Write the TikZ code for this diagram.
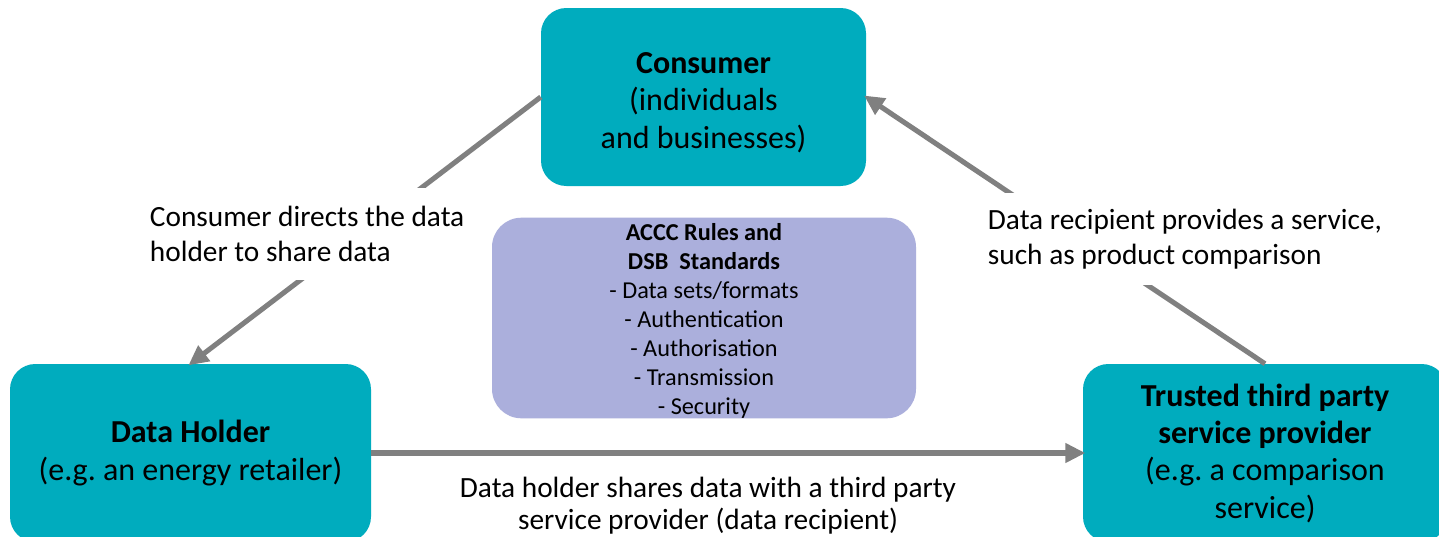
\documentclass[tikz,border=0pt]{standalone}
\usepackage{fontspec}
\setmainfont{Carlito}
\usetikzlibrary{arrows.meta}
\definecolor{teal1}{RGB}{0,172,190}
\definecolor{lav}{RGB}{171,175,220}
\definecolor{arrgray}{RGB}{128,128,128}
\tikzset{
  tealbox/.style={fill=teal1, rounded corners=19pt, inner sep=0pt, align=center,
    font=\fontsize{24}{28}\selectfont},
  lavbox/.style={fill=lav, rounded corners=22pt, inner sep=0pt, align=center,
    font=\fontsize{18.2}{21.75}\selectfont},
  conn/.style={draw=arrgray, line width=3.8pt,
    -{Triangle[length=15pt,width=14pt]}, shorten >=-2pt},
  lbl/.style={fill=white, inner xsep=2pt, inner ysep=0pt, align=left,
    font=\fontsize{22}{26.25}\selectfont},
}
\begin{document}
\frenchspacing
\begin{tikzpicture}[x=0.75pt,y=-0.75pt]
\useasboundingbox (0,0) rectangle (1439,536);
\clip (0,0) rectangle (1439,536);
\fill[white] (0,0) rectangle (1439,536);
\node[tealbox, minimum width={325*0.75pt}, minimum height={178*0.75pt}] (cons) at (703.5,97)
  {\rule{0pt}{24pt}\textbf{Consumer}\\(individuals\\and businesses)};
\node[tealbox, minimum width={361*0.75pt}, minimum height={178*0.75pt}] (dh) at (190.5,453)
  {\textbf{Data Holder}\\(e.g. an energy retailer)};
\node[tealbox, minimum width={364*0.75pt}, minimum height={178*0.75pt}] (tp) at (1265,453)
  {\textbf{Trusted third party}\\\textbf{service provider}\\(e.g. a comparison\\service)};
\node[lavbox, minimum width={424*0.75pt}, minimum height={198*0.75pt}] (acc) at (704,318)
  {\rule{0pt}{17pt}\textbf{ACCC Rules and}\\\textbf{DSB\ \ Standards}\\- Data sets/formats\\- Authentication\\- Authorisation\\- Transmission\\- Security};
\draw[conn] (cons.west) -- (dh.north);
\draw[conn] (tp.north) -- (cons.east);
\draw[conn] (dh.east) -- (tp.west);
\node[lbl, anchor=west, minimum height={92*0.75pt}] (l1) at (147,234)
  {Consumer directs the data\\holder to share data};
\node[lbl, anchor=west, minimum height={92*0.75pt}] (l3) at (985,239)
  {Data recipient provides a service,\\such as product comparison};
\node[lbl, align=center, font=\fontsize{22}{24}\selectfont] (l2) at (708,506)
  {Data holder shares data with a third party\\service provider (data recipient)};
\end{tikzpicture}
\end{document}
